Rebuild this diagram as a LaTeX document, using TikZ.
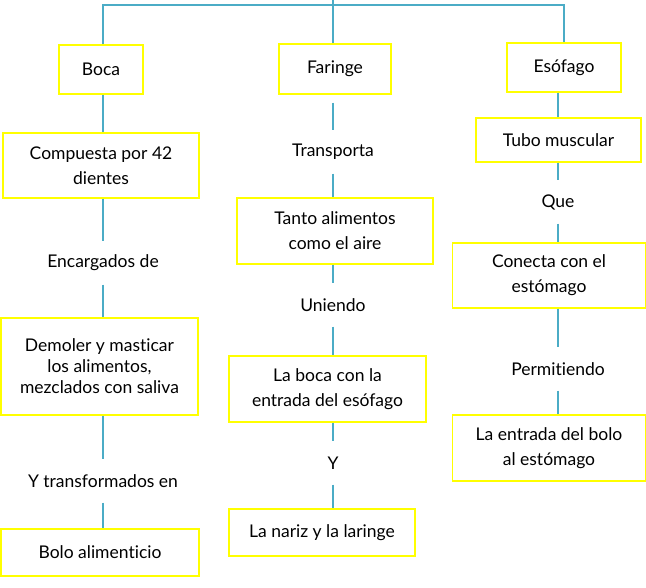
\documentclass[tikz,border=0pt]{standalone}
\usepackage{fontspec}
\setmainfont{Lato}[Ligatures={NoCommon,NoContextual}]
\usepackage{tikz}
\usetikzlibrary{positioning}

\definecolor{linkblue}{RGB}{75,172,198}
\definecolor{boxyellow}{RGB}{255,255,0}

\tikzset{
  box/.style={draw=boxyellow, line width=1.1pt, align=center, inner sep=0pt},
  tag/.style={minimum height=43pt, inner sep=0pt},
  link/.style={draw=linkblue, line width=1.7pt}
}

\begin{document}
\begin{tikzpicture}[x=1pt, y=-1pt, font=\fontsize{17.5}{25}\selectfont]
        \useasboundingbox (0,0) rectangle (646,588);

        \coordinate (top) at (333,0);
        \coordinate (bus) at (333,5);

        \node[box, minimum width=84pt, minimum height=49pt] (boca) at (101,69.5) {Boca};
        \node[box, minimum width=112pt, minimum height=50pt] (faringe) at (335,69) {Faringe};
        \node[box, minimum width=114pt, minimum height=49pt] (esofago) at (564,67.5) {Esófago};

        % Boca
        \node[box, minimum width=196pt, minimum height=65pt] (compuesta) at (101,165.5) {Compuesta por 42\\ dientes};
        \node[tag] (encargados) at (103,263) {Encargados de};
        \node[box, minimum width=197pt, minimum height=97pt, font=\fontsize{17.5}{21}\selectfont] (demoler) at (99.5,366.5) {Demoler y masticar\\ los alimentos,\\ mezclados con saliva};
        \node[tag] (transformados) at (103,481) {Y transformados en};
        \node[box, minimum width=198pt, minimum height=47pt] (bolo) at (100,552.5) {Bolo alimenticio};

        % Faringe
        \node[tag] (transporta) at (333,152) {Transporta};
        \node[box, minimum width=196pt, minimum height=66pt] (tanto) at (335,231) {Tanto alimentos\\ como el aire};
        \node[tag] (uniendo) at (333,305) {Uniendo};
        \node[box, minimum width=197pt, minimum height=66pt] (laboca) at (327.5,389) {La boca con la\\ entrada del esófago};
        \node[tag] (y) at (333,463) {Y};
        \node[box, minimum width=186pt, minimum height=47pt] (nariz) at (322,532.5) {La nariz y la laringe};

        % Esofago
        \node[box, minimum width=165pt, minimum height=44pt] (tubo) at (558.5,140) {Tubo muscular};
        \node[tag] (que) at (558,202) {Que};
        \node[box, minimum width=193pt, minimum height=65pt] (conecta) at (549,275.5) {Conecta con el\\ estómago};
        \node[tag] (permitiendo) at (558,369) {Permitiendo};
        \node[box, minimum width=193pt, minimum height=66pt] (entrada) at (549,448) {La entrada del bolo\\ al estómago};

        \draw[link] (top) -- (faringe.north -| transporta);
        \draw[link] (boca.north -| encargados) |- (bus) -| (esofago.north);

        \draw[link] (boca.south -| encargados) -- (compuesta.north -| encargados);
        \draw[link] (compuesta.south -| encargados) -- (encargados);
        \draw[link] (encargados) -- (demoler.north -| encargados);
        \draw[link] (demoler.south -| transformados) -- (transformados);
        \draw[link] (transformados) -- (bolo.north -| transformados);

        \draw[link, shorten <=8pt] (faringe.south -| transporta) -- (transporta);
        \draw[link] (transporta) -- (tanto.north -| transporta);
        \draw[link] (tanto.south -| uniendo) -- (uniendo);
        \draw[link] (uniendo) -- (laboca.north -| uniendo);
        \draw[link] (laboca.south -| y) -- (y);
        \draw[link] (y) -- (nariz.north -| y);

        \draw[link] (esofago.south -| que) -- (tubo.north -| que);
        \draw[link] (tubo.south -| que) -- (que);
        \draw[link] (que) -- (conecta.north -| que);
        \draw[link] (conecta.south -| permitiendo) -- (permitiendo);
        \draw[link] (permitiendo) -- (entrada.north -| permitiendo);
\end{tikzpicture}
\end{document}
